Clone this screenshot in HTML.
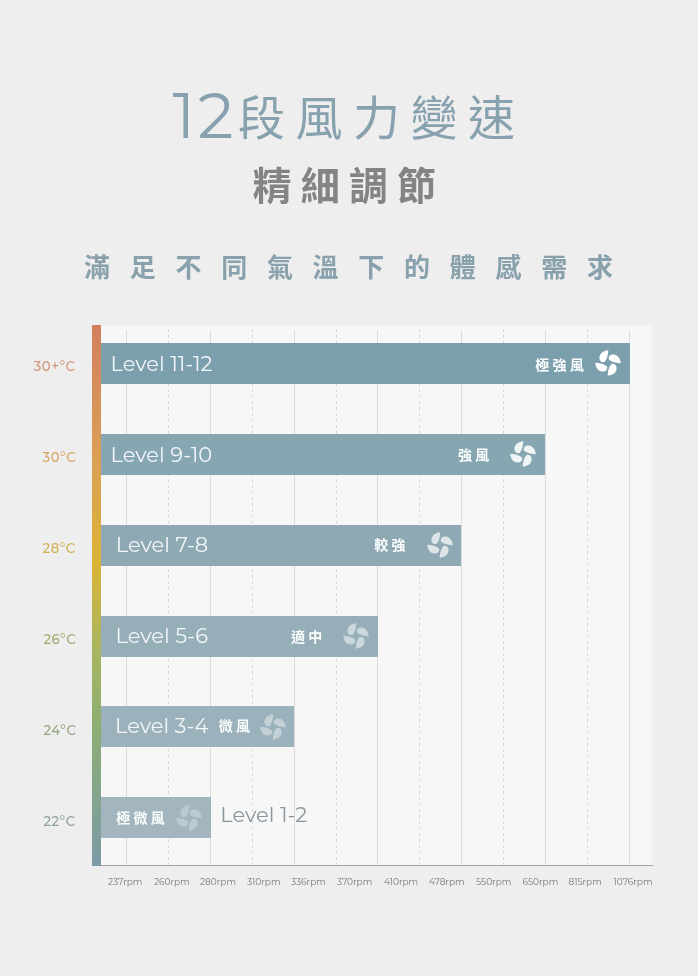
<!DOCTYPE html>
<html><head><meta charset="utf-8">
<style>
*{margin:0;padding:0;box-sizing:border-box}
html,body{width:698px;height:976px;background:#eeeeee;overflow:hidden}
body{position:relative;font-family:"Montserrat","Liberation Sans","Noto Sans CJK TC",sans-serif}
.abs{position:absolute;white-space:nowrap}
.cjk{font-family:"Liberation Sans","Noto Sans CJK TC","Noto Sans CJK SC",sans-serif}
#t1n{left:172.5px;top:84px;letter-spacing:2.5px;color:#88a1ae;line-height:1;font-family:"Montserrat","Liberation Sans",sans-serif;font-weight:400;font-size:63px}
#t1c{left:238px;top:95px;color:#88a1ae;line-height:1;font-family:"Liberation Sans","Noto Sans CJK TC",sans-serif;font-weight:400;font-size:47px;letter-spacing:10.5px}
#t2{left:252.5px;top:167px;color:#848484;font-weight:700;font-size:39px;letter-spacing:9.2px;line-height:1}
#t3{left:84px;top:254.7px;color:#88a1ad;font-weight:700;font-size:26px;letter-spacing:19.72px;line-height:1}
#panel{left:92px;top:325px;width:561px;height:540px;background:#f7f7f7}
#grad{left:92px;top:325px;width:9px;height:541px;background:linear-gradient(to bottom,#d27f5f 0%,#daa054 25%,#dbb436 44%,#a8b560 60%,#8cae74 75%,#7b9aa6 100%)}
#axis{left:101px;top:864.5px;width:552px;height:1px;background:#a3a3a3}
.vl{position:absolute;top:330px;height:535px;width:1px;background:#dcdcdc}
.vd{position:absolute;top:328.5px;height:536.5px;width:1px;background:repeating-linear-gradient(to bottom,#d9d9d9 0 3.4px,transparent 3.4px 6px)}
.bar{position:absolute;left:101px;height:41px}
.lv{position:absolute;font-weight:400;font-size:21px;color:#f2f6f8;line-height:1}
.tl{position:absolute;right:622px;font-size:15px;line-height:1;font-weight:500;letter-spacing:0.6px;transform:scaleX(0.88);transform-origin:100% 50%}
.rl{position:absolute;font-family:"Liberation Sans","Noto Sans CJK TC",sans-serif;font-weight:700;font-size:14px;letter-spacing:3.3px;color:#fbfdfd;line-height:1}
.fan{position:absolute;width:28px;height:28px}
.ax{position:absolute;top:877px;font-size:9px;color:#787878;line-height:1}
</style></head>
<body>
<div id="wrap" style="position:absolute;left:0;top:0;width:698px;height:976px;will-change:transform">
<div class="abs" id="t1n">12</div><div class="abs" id="t1c">段風力變速</div>
<div class="abs cjk" id="t2">精細調節</div>
<div class="abs cjk" id="t3">滿足不同氣溫下的體感需求</div>

<div class="abs" id="panel"></div>
<div class="abs" style="left:650px;top:325px;width:3px;height:540px;background:#f4f4f4"></div>
<div class="vl" style="left:126px"></div>
<div class="vd" style="left:168px"></div>
<div class="vl" style="left:210px"></div>
<div class="vd" style="left:252px"></div>
<div class="vl" style="left:294px"></div>
<div class="vd" style="left:336px"></div>
<div class="vl" style="left:377px"></div>
<div class="vd" style="left:419px"></div>
<div class="vl" style="left:461px"></div>
<div class="vd" style="left:503px"></div>
<div class="vl" style="left:545px"></div>
<div class="vd" style="left:587px"></div>
<div class="vl" style="left:629px"></div>
<div class="abs" id="axis"></div>
<div class="abs" id="grad"></div>

<div class="bar" style="top:343px;width:529px;background:#7b9fad"></div>
<div class="bar" style="top:434px;width:444px;background:#86a6b2"></div>
<div class="bar" style="top:525px;width:360px;background:#8ea9b4"></div>
<div class="bar" style="top:616px;width:277px;background:#95aeb8"></div>
<div class="bar" style="top:706px;width:193px;background:#9bb1bb"></div>
<div class="bar" style="top:797px;width:110px;background:#a3b6bf"></div>

<div class="lv" style="left:110.6px;top:353.2px">Level 11-12</div>
<div class="lv" style="left:110.6px;top:443.5px">Level 9-10</div>
<div class="lv" style="left:115.8px;top:534px">Level 7-8</div>
<div class="lv" style="left:115.6px;top:625.2px">Level 5-6</div>
<div class="lv" style="left:115px;top:715px">Level 3-4</div>
<div class="lv" style="left:220.3px;top:803.5px;color:#8a979e">Level 1-2</div>

<div class="tl" style="top:357.5px;color:#d2977a">30+°C</div>
<div class="tl" style="top:448.5px;color:#d8a565">30°C</div>
<div class="tl" style="top:539.6px;color:#cfb352">28°C</div>
<div class="tl" style="top:630.6px;color:#a5aa72">26°C</div>
<div class="tl" style="top:721.6px;color:#93a67f">24°C</div>
<div class="tl" style="top:812.6px;color:#8fa39c">22°C</div>

<div class="rl" style="left:535.3px;top:358.0px">極強風</div>
<div class="rl" style="left:458px;top:447.5px">強風</div>
<div class="rl" style="left:374.3px;top:538.3px">較強</div>
<div class="rl" style="left:291px;top:629.5px">適中</div>
<div class="rl" style="left:218.8px;top:719.0px">微風</div>
<div class="rl" style="left:116.2px;top:811.0px">極微風</div>

<svg width="0" height="0" style="position:absolute"><defs><path id="blade" d="M0.3,-12.8 C0.1,-9 -0.6,-5 -2.2,-2.8 Q-2.9,-1.4 -3.6,-0.9 C-5.5,-0.4 -8,-1.2 -8.5,-4.2 C-9,-7.5 -7,-10.4 -4.2,-11.6 C-2.8,-12.3 -1.2,-12.7 0.3,-12.8 Z"/>
<g id="fanico"><use href="#blade"/><use href="#blade" transform="rotate(90)"/><use href="#blade" transform="rotate(180)"/><use href="#blade" transform="rotate(270)"/></g></defs></svg>

<svg class="fan" style="left:594.3px;top:348.8px" viewBox="-14 -14 28 28"><use href="#fanico" fill="#ffffff"/></svg>
<svg class="fan" style="left:508.8px;top:440px" viewBox="-14 -14 28 28"><use href="#fanico" fill="#ffffff" fill-opacity="0.87"/></svg>
<svg class="fan" style="left:425.6px;top:530.9px" viewBox="-14 -14 28 28"><use href="#fanico" fill="#ffffff" fill-opacity="0.7"/></svg>
<svg class="fan" style="left:342px;top:621.8px" viewBox="-14 -14 28 28"><use href="#fanico" fill="#ffffff" fill-opacity="0.5"/></svg>
<svg class="fan" style="left:258.7px;top:713.2px" viewBox="-14 -14 28 28"><use href="#fanico" fill="#ffffff" fill-opacity="0.4"/></svg>
<svg class="fan" style="left:175.4px;top:803.9px" viewBox="-14 -14 28 28"><use href="#fanico" fill="#ffffff" fill-opacity="0.28"/></svg>

<div class="ax" style="left:108px">237rpm</div>
<div class="ax" style="left:154px">260rpm</div>
<div class="ax" style="left:200px">280rpm</div>
<div class="ax" style="left:247px">310rpm</div>
<div class="ax" style="left:291px">336rpm</div>
<div class="ax" style="left:337px">370rpm</div>
<div class="ax" style="left:384px">410rpm</div>
<div class="ax" style="left:429px">478rpm</div>
<div class="ax" style="left:476px">550rpm</div>
<div class="ax" style="left:522.5px">650rpm</div>
<div class="ax" style="left:568.5px">815rpm</div>
<div class="ax" style="left:613.5px">1076rpm</div>
</div>
</body></html>
